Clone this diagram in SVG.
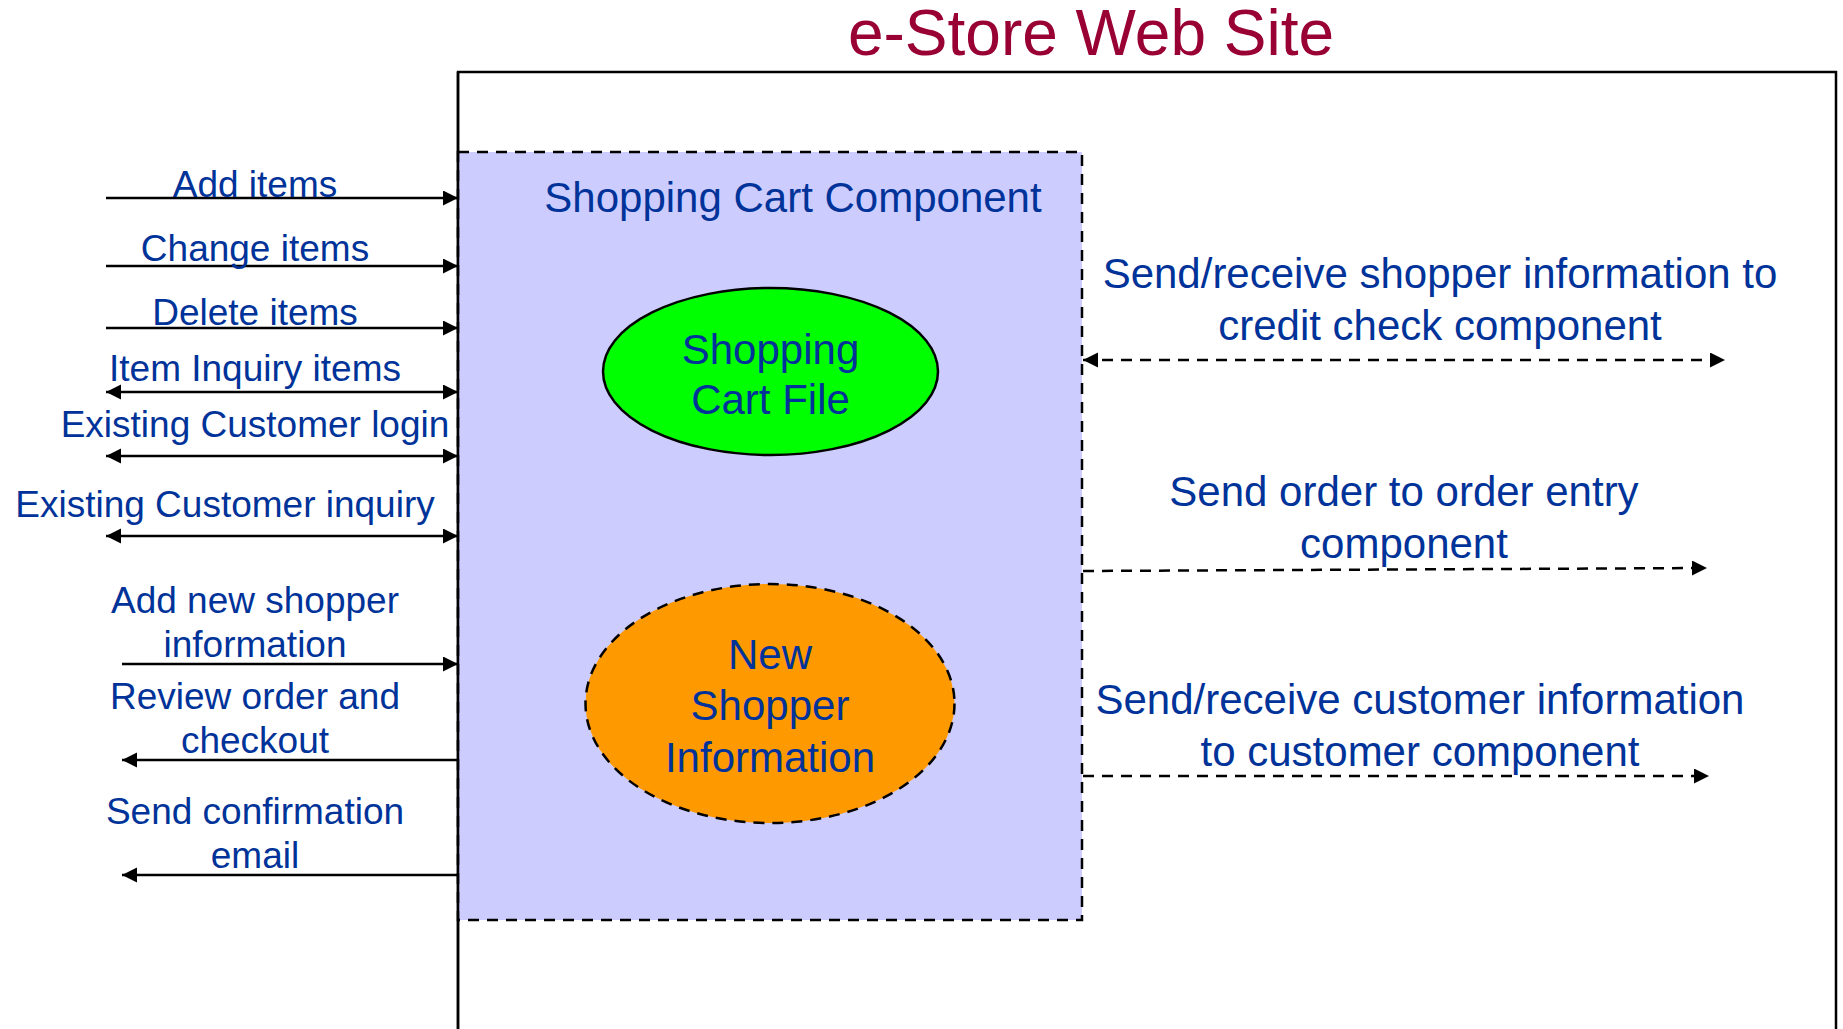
<svg xmlns="http://www.w3.org/2000/svg" width="1843" height="1029" viewBox="0 0 1843 1029">
<style>
.lbl{font-family:"Liberation Sans",Arial,sans-serif;fill:#003399;text-anchor:middle}
.l37{font-size:37px}
.l42{font-size:42px}
.conn{stroke:#000;stroke-width:2.5;fill:none}
.dash{stroke-dasharray:11 8}
</style>
<defs>
<marker id="ah" markerUnits="userSpaceOnUse" markerWidth="16" markerHeight="16" refX="15" refY="7.5" orient="auto-start-reverse" viewBox="0 0 16 16">
<path d="M0,0 L15,7.5 L0,15 z" fill="#000"/>
</marker>
</defs>
<rect width="1843" height="1029" fill="#fff"/>
<text x="1091" y="55" font-family="Liberation Sans,Arial,sans-serif" font-size="64" fill="#990033" text-anchor="middle">e-Store Web Site</text>
<g id="website">
<path d="M458,1035 L458,72 L1836,72 L1836,1035" fill="none" stroke="#000" stroke-width="2.5"/>
</g>
<g id="cart-component">
<rect x="458" y="152" width="624" height="768" fill="#CCCCFF" stroke="#000" stroke-width="2.5" stroke-dasharray="11 8"/>
<line x1="458" y1="72" x2="458" y2="1035" stroke="#000" stroke-width="2.5"/>
<text class="lbl l42" x="793" y="212">Shopping Cart Component</text>
</g>
<g id="cart-file">
<ellipse cx="770.5" cy="371.5" rx="167.5" ry="83.5" fill="#00FF00" stroke="#000" stroke-width="2.5"/>
<text class="lbl l42" x="770.5" y="364">Shopping</text>
<text class="lbl l42" x="770.5" y="414">Cart File</text>
</g>
<g id="new-shopper">
<ellipse cx="770" cy="703.5" rx="184.5" ry="119.5" fill="#FF9900" stroke="#000" stroke-width="2.5" stroke-dasharray="11 8"/>
<text class="lbl l42" x="770" y="669">New</text>
<text class="lbl l42" x="770" y="720">Shopper</text>
<text class="lbl l42" x="770" y="772">Information</text>
</g>
<g id="connectors">
<line class="conn" x1="106" y1="198" x2="458" y2="198" marker-end="url(#ah)"/>
<line class="conn" x1="106" y1="266" x2="458" y2="266" marker-end="url(#ah)"/>
<line class="conn" x1="106" y1="328" x2="458" y2="328" marker-end="url(#ah)"/>
<line class="conn" x1="106" y1="392" x2="458" y2="392" marker-start="url(#ah)" marker-end="url(#ah)"/>
<line class="conn" x1="106" y1="456" x2="458" y2="456" marker-start="url(#ah)" marker-end="url(#ah)"/>
<line class="conn" x1="106" y1="536" x2="458" y2="536" marker-start="url(#ah)" marker-end="url(#ah)"/>
<line class="conn" x1="122" y1="664" x2="458" y2="664" marker-end="url(#ah)"/>
<line class="conn" x1="458" y1="760" x2="122" y2="760" marker-end="url(#ah)"/>
<line class="conn" x1="458" y1="875" x2="122" y2="875" marker-end="url(#ah)"/>
<line class="conn dash" x1="1083" y1="360" x2="1725" y2="360" marker-start="url(#ah)" marker-end="url(#ah)"/>
<line class="conn dash" x1="1083" y1="571" x2="1707" y2="568" marker-end="url(#ah)"/>
<line class="conn dash" x1="1083" y1="776" x2="1709" y2="776" marker-end="url(#ah)"/>
</g>
<g id="labels">
<text class="lbl l37" x="255" y="197">Add items</text>
<text class="lbl l37" x="255" y="261">Change items</text>
<text class="lbl l37" x="255" y="325">Delete items</text>
<text class="lbl l37" x="255" y="381">Item Inquiry items</text>
<text class="lbl l37" x="255" y="437">Existing Customer login</text>
<text class="lbl l37" x="225" y="517">Existing Customer inquiry</text>
<text class="lbl l37" x="255" y="613">Add new shopper</text>
<text class="lbl l37" x="255" y="657">information</text>
<text class="lbl l37" x="255" y="709">Review order and</text>
<text class="lbl l37" x="255" y="753">checkout</text>
<text class="lbl l37" x="255" y="824">Send confirmation</text>
<text class="lbl l37" x="255" y="868">email</text>
<text class="lbl l42" x="1440" y="288">Send/receive shopper information to</text>
<text class="lbl l42" x="1440" y="340">credit check component</text>
<text class="lbl l42" x="1404" y="506">Send order to order entry</text>
<text class="lbl l42" x="1404" y="558">component</text>
<text class="lbl l42" x="1420" y="714">Send/receive customer information</text>
<text class="lbl l42" x="1420" y="766">to customer component</text>
</g>
</svg>
